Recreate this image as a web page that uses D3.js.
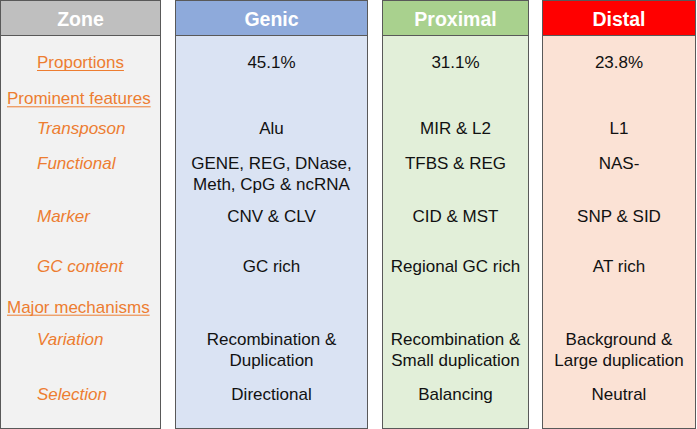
<!DOCTYPE html>
<html><head><meta charset="utf-8">
<script src="https://cdn.jsdelivr.net/npm/d3@7"></script>
<style>html,body{margin:0;padding:0;background:#fff;}svg{display:block;}</style>
</head><body>
<svg id="chart" width="697" height="429"></svg>
<script>
// ---- data ----
const columns = ["Zone", "Genic", "Proximal", "Distal"];
const rowLabels = ["Proportions", "Prominent features", "Transposon", "Functional", "Marker", "GC content", "Major mechanisms", "Variation", "Selection"];
const rowKinds = ["section-indent", "section", "item", "item", "item", "item", "section", "item", "item"];
const genicValues = ["45.1%", "", "Alu", "GENE, REG, DNase,\nMeth, CpG & ncRNA", "CNV & CLV", "GC rich", "", "Recombination &\nDuplication", "Directional"];
const proximalValues = ["31.1%", "", "MIR & L2", "TFBS & REG", "CID & MST", "Regional GC rich", "", "Recombination &\nSmall duplication", "Balancing"];
const distalValues = ["23.8%", "", "L1", "NAS-", "SNP & SID", "AT rich", "", "Background &\nLarge duplication", "Neutral"];

// ---- layout / style ----
const W = 697, H = 429;
const headerColor = {Zone: "#bfbfbf", Genic: "#8eaadb", Proximal: "#a9d18e", Distal: "#ff0000"};
const bodyColor = {Zone: "#f2f2f2", Genic: "#dae3f3", Proximal: "#e2efd9", Distal: "#fbe2d5"};
const colLeft = d3.scaleOrdinal().domain(columns).range([0.5, 175.5, 382.5, 542.5]);
const colRight = d3.scaleOrdinal().domain(columns).range([160.5, 367.5, 528.5, 695.5]);
const rowY = d3.scaleOrdinal().domain(rowLabels).range([68, 104.3, 134.3, 169.3, 221.7, 271.7, 312.7, 345, 399.5]);
const headerH = 35;
const lineGap = 21;
const orange = "#ed7d31";
const font = "'Liberation Sans', Arial, Helvetica, sans-serif";

const svg = d3.select("#chart");
const valuesByCol = {Genic: genicValues, Proximal: proximalValues, Distal: distalValues};

const cols = svg.selectAll("g.col").data(columns).join("g").attr("class", "col");
cols.append("rect")
  .attr("x", d => colLeft(d)).attr("y", 0.5)
  .attr("width", d => colRight(d) - colLeft(d)).attr("height", H - 1)
  .attr("fill", d => bodyColor[d]);
cols.append("rect")
  .attr("x", d => colLeft(d)).attr("y", 0.5)
  .attr("width", d => colRight(d) - colLeft(d)).attr("height", headerH)
  .attr("fill", d => headerColor[d]);
cols.append("line")
  .attr("x1", d => colLeft(d)).attr("x2", d => colRight(d))
  .attr("y1", headerH + 0.5).attr("y2", headerH + 0.5)
  .attr("stroke", "#595959").attr("stroke-width", 1);
cols.append("rect")
  .attr("x", d => colLeft(d)).attr("y", 0.5)
  .attr("width", d => colRight(d) - colLeft(d)).attr("height", H - 1)
  .attr("fill", "none").attr("stroke", "#595959").attr("stroke-width", 1);
cols.append("text")
  .attr("x", d => (colLeft(d) + colRight(d)) / 2).attr("y", 25.5)
  .attr("text-anchor", "middle")
  .attr("font-family", font).attr("font-weight", "bold").attr("font-size", 19.5)
  .attr("fill", "#fff").text(d => d);

// row labels in Zone column
const labels = svg.append("g");
rowLabels.forEach((lab, i) => {
  const kind = rowKinds[i];
  const x = kind === "section" ? 7 : 37;
  const t = labels.append("text")
    .attr("x", x).attr("y", rowY(lab))
    .attr("font-family", font).attr("font-size", 17)
    .attr("fill", orange)
    .attr("font-style", kind === "item" ? "italic" : "normal")
    .text(lab);
  if (kind !== "item") {
    const w = t.node().getComputedTextLength();
    labels.append("line")
      .attr("x1", x).attr("x2", x + w)
      .attr("y1", rowY(lab) + 2.5).attr("y2", rowY(lab) + 2.5)
      .attr("stroke", orange).attr("stroke-width", 1);
  }
});

// values
columns.slice(1).forEach(c => {
  const cx = (colLeft(c) + colRight(c)) / 2;
  const g = svg.append("g");
  valuesByCol[c].forEach((v, i) => {
    if (!v) return;
    const lines = v.split("\n");
    const t = g.append("text")
      .attr("x", cx).attr("y", rowY(rowLabels[i]))
      .attr("text-anchor", "middle")
      .attr("font-family", font).attr("font-size", 17)
      .attr("fill", "#111");
    lines.forEach((ln, j) => {
      t.append("tspan").attr("x", cx).attr("dy", j === 0 ? 0 : lineGap).text(ln);
    });
  });
});
</script>
</body></html>
